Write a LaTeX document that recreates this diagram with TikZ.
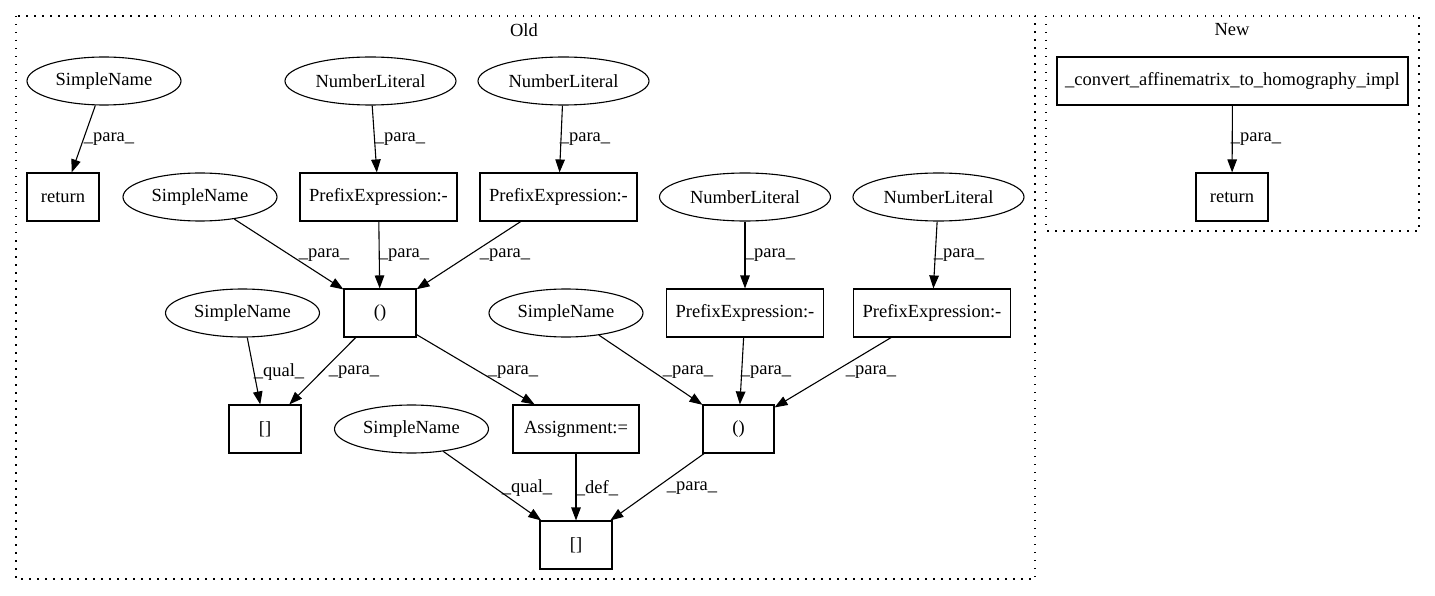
\documentclass[tikz,border=0pt]{standalone}
\usepackage{fontspec}
\setmainfont{Liberation Serif}
\usetikzlibrary{shapes.geometric,arrows.meta}
\tikzset{
  gv/.style={draw, line width=1.1pt, inner sep=0pt, minimum height=48pt, font=\fontsize{18.5}{21}\selectfont},
  ell/.style={gv, ellipse},
  box/.style={gv, rectangle},
  lbl/.style={inner sep=0pt, font=\fontsize{18.5}{21}\selectfont},
  arr/.style={-{Triangle[length=13pt,width=9.5pt]}, line width=1.1pt},
  clus/.style={line width=1.3pt, dash pattern=on 1.5pt off 6.5pt}
}
\begin{document}
\begin{tikzpicture}[x=1pt,y=-1pt]
\useasboundingbox (0,0) rectangle (1435,596);
% clusters
\draw[clus] (16,16) rectangle (1035,579);
\draw[clus] (1046,16) rectangle (1419,231);
\node[lbl] (oldlbl) at (524,30) {Old};
\node[lbl] (newlbl) at (1232,30) {New};
% Old nodes
\node[ell, minimum width=154pt] (sn1) at (104,81) {SimpleName};
\node[ell, minimum width=171pt] (nl1) at (370.5,81) {NumberLiteral};
\node[ell, minimum width=171pt] (nl2) at (563.5,81) {NumberLiteral};
\node[box, minimum width=72pt] (ret1) at (63,197) {return};
\node[ell, minimum width=154pt] (sn2) at (200,197) {SimpleName};
\node[box, minimum width=157pt] (pe1) at (378.5,197) {PrefixExpression:-};
\node[box, minimum width=157pt] (pe2) at (558.5,197) {PrefixExpression:-};
\node[ell, minimum width=171pt] (nl3) at (745,197) {NumberLiteral};
\node[ell, minimum width=171pt] (nl4) at (938.5,197) {NumberLiteral};
\node[ell, minimum width=154pt] (sn3) at (242.5,313) {SimpleName};
\node[box, minimum width=72pt] (c1) at (380,313) {()};
\node[ell, minimum width=154pt] (sn5) at (566,313) {SimpleName};
\node[box, minimum width=157pt] (pe3) at (745,313) {PrefixExpression:-};
\node[box, minimum width=157pt] (pe4) at (932,313) {PrefixExpression:-};
\node[box, minimum width=72pt] (b1) at (265,429) {[]};
\node[ell, minimum width=154pt] (sn4) at (411.5,429) {SimpleName};
\node[box, minimum width=126pt] (asg) at (576,429) {Assignment:=};
\node[box, minimum width=71pt] (c2) at (738.5,429) {()};
\node[box, minimum width=72pt] (b2) at (576,545) {[]};
% New nodes
\node[box, minimum width=351pt] (conv) at (1232.5,81) {\_convert\_affinematrix\_to\_homography\_impl};
\node[box, minimum width=72pt] (ret2) at (1232,197) {return};
% edges
\draw[arr] (sn1) -- (ret1);
\draw[arr] (nl1) -- (pe1);
\draw[arr] (nl2) -- (pe2);
\draw[arr] (nl3) -- (pe3);
\draw[arr] (nl4) -- (pe4);
\draw[arr] (sn2) -- (c1);
\draw[arr] (pe1) -- (c1);
\draw[arr] (pe2) -- (c1);
\draw[arr] (sn3) -- (b1);
\draw[arr] (c1) -- (b1);
\draw[arr] (c1) -- (asg);
\draw[arr] (sn5) -- (c2);
\draw[arr] (pe3) -- (c2);
\draw[arr] (pe4) -- (c2);
\draw[arr] (sn4) -- (b2);
\draw[arr] (asg) -- (b2);
\draw[arr] (c2) -- (b2);
\draw[arr] (conv) -- (ret2);
% edge labels
\node[lbl] (l1) at (109,139) {\_para\_};
\node[lbl] (l2) at (400,139) {\_para\_};
\node[lbl] (l3) at (585,139) {\_para\_};
\node[lbl] (l4) at (770,255) {\_para\_};
\node[lbl] (l5) at (959,255) {\_para\_};
\node[lbl] (l6) at (324,255) {\_para\_};
\node[lbl] (l7) at (404,255) {\_para\_};
\node[lbl] (l8) at (505,255) {\_para\_};
\node[lbl] (l9) at (279,372) {\_qual\_};
\node[lbl] (l10) at (354,372) {\_para\_};
\node[lbl] (l11) at (513,372) {\_para\_};
\node[lbl] (l12) at (688,372) {\_para\_};
\node[lbl] (l13) at (766,372) {\_para\_};
\node[lbl] (l14) at (871,372) {\_para\_};
\node[lbl] (l15) at (527,488) {\_qual\_};
\node[lbl] (l16) at (597,488) {\_def\_};
\node[lbl] (l17) at (692,488) {\_para\_};
\node[lbl] (l18) at (1256,139) {\_para\_};
\end{tikzpicture}
\end{document}
